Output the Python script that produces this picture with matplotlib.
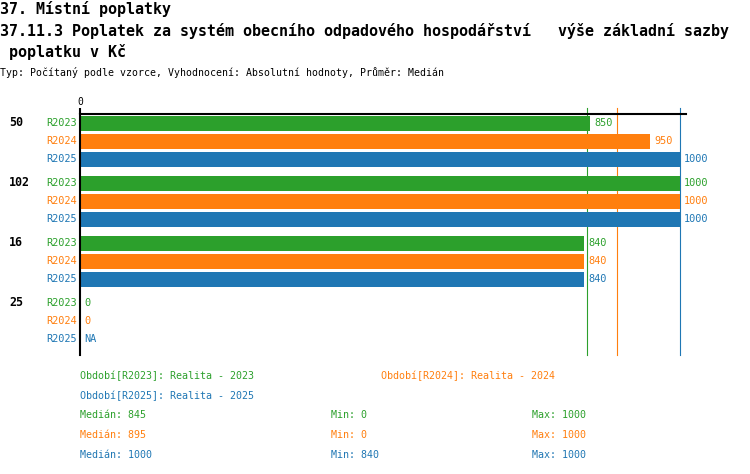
import numpy as np
import matplotlib
matplotlib.use("Agg")
import matplotlib.pyplot as plt
import matplotlib.transforms as mtransforms

# Data
groups = ["50", "102", "16", "25"]
series = ["R2023", "R2024", "R2025"]
colors = ["#2ca02c", "#ff7f0e", "#1f77b4"]
v2023 = [850, 1000, 840, 0]
v2024 = [950, 1000, 840, 0]
v2025 = [1000, 1000, 840, None]
values = [v2023, v2024, v2025]
medians = [845, 895, 1000]
mins = [0, 0, 840]
maxs = [1000, 1000, 1000]
legend_names = ["Realita - 2023", "Realita - 2024", "Realita - 2025"]

mono = "DejaVu Sans Mono"
W, H = 750, 474

fig = plt.figure(figsize=(W / 100, H / 100), dpi=100)


def fx(x):
    return x / W


def fy(y):
    return 1 - y / H


# titles
fig.text(fx(0), fy(9), "37. Místní poplatky", family=mono, weight="bold",
         fontsize=10.8, va="center", ha="left")
fig.text(fx(0), fy(31), "37.11.3 Poplatek za systém obecního odpadového hospodářství   výše základní sazby",
         family=mono, weight="bold", fontsize=10.8, va="center", ha="left")
fig.text(fx(0), fy(52), " poplatku v Kč", family=mono, weight="bold",
         fontsize=10.8, va="center", ha="left")
fig.text(fx(0), fy(73), "Typ: Počítaný podle vzorce, Vyhodnocení: Absolutní hodnoty, Průměr: Medián",
         family=mono, fontsize=7.15, va="center", ha="left")

# plot area
ax_left, ax_right, ax_top, ax_bottom = 80, 686, 114, 355
ax = fig.add_axes([fx(ax_left), fy(ax_bottom), (ax_right - ax_left) / W, (ax_bottom - ax_top) / H])
row_px = 18
ax.set_xlim(0, (ax_right - ax_left) / 0.6)
ax.set_ylim((ax_bottom - ax_top) / row_px, 0)

for s in ["right", "bottom"]:
    ax.spines[s].set_visible(False)
for s in ["left", "top"]:
    ax.spines[s].set_linewidth(1.5)
    ax.spines[s].set_zorder(4)
ax.xaxis.tick_top()
ax.set_xticks([0])
ax.set_xticklabels(["0"], family=mono, fontsize=7)
ax.tick_params(axis="x", length=4.3, width=1.5, pad=0.5)
ax.set_yticks([])

label_tr = mtransforms.blended_transform_factory(fig.transFigure, ax.transData)

for g, grp in enumerate(groups):
    y0 = 0.5 + 3 * g + g / 3
    ax.text(fx(9), y0, grp, transform=label_tr, family=mono, weight="bold",
            fontsize=8.4, va="center", ha="left")
    for s, name in enumerate(series):
        y = y0 + s
        v = values[s][g]
        ax.annotate(name, xy=(0, y), xytext=(-3, 0), textcoords="offset pixels",
                    ha="right", va="center", family=mono, fontsize=7.4, color=colors[s],
                    annotation_clip=False)
        if v is None:
            ax.annotate("NA", xy=(0, y), xytext=(4, 0), textcoords="offset pixels",
                        ha="left", va="center", family=mono, fontsize=7.4, color=colors[s])
            continue
        if v > 0:
            ax.barh(y, v, height=15 / row_px, color=colors[s], zorder=2)
        ax.annotate(str(v), xy=(v, y), xytext=(4, 0), textcoords="offset pixels",
                    ha="left", va="center", family=mono, fontsize=7.4, color=colors[s],
                    annotation_clip=False)

# median lines (behind the bars)
for m, c in zip(medians, colors):
    ax.axvline(m, ymin=0, ymax=(ax_bottom - 108) / (ax_bottom - ax_top), color=c,
               lw=0.8, clip_on=False, zorder=1)

# legend / stats
fs = 7.2
fig.text(fx(80), fy(376), "Období[R2023]: " + legend_names[0], family=mono, fontsize=fs,
         color=colors[0], va="center")
fig.text(fx(381), fy(376), "Období[R2024]: " + legend_names[1], family=mono, fontsize=fs,
         color=colors[1], va="center")
fig.text(fx(80), fy(396), "Období[R2025]: " + legend_names[2], family=mono, fontsize=fs,
         color=colors[2], va="center")
for i in range(3):
    yy = 415 + 20 * i
    fig.text(fx(80), fy(yy), "Medián: %d" % medians[i], family=mono, fontsize=fs,
             color=colors[i], va="center")
    fig.text(fx(331), fy(yy), "Min: %d" % mins[i], family=mono, fontsize=fs,
             color=colors[i], va="center")
    fig.text(fx(532), fy(yy), "Max: %d" % maxs[i], family=mono, fontsize=fs,
             color=colors[i], va="center")

fig.savefig("out.png", dpi=100)
